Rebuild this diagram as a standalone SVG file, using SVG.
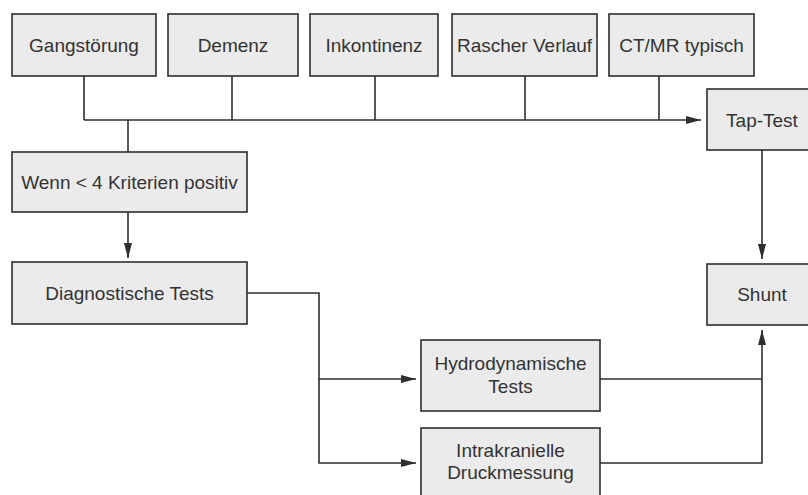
<svg xmlns="http://www.w3.org/2000/svg" width="808" height="495" viewBox="0 0 808 495">
<style>
.box{fill:#ebebeb;stroke:#2e2e2e;stroke-width:1.6}
.lbl{font-family:"Liberation Sans","Open Sans",sans-serif;font-size:19px;fill:#333;text-anchor:middle}
.con{fill:none;stroke:#2e2e2e;stroke-width:1.6}
</style>
<defs>
<marker id="arr" markerUnits="userSpaceOnUse" markerWidth="16" markerHeight="10" refX="15" refY="5" orient="auto">
<path d="M0,1 L15,5 L0,9 Z" fill="#2e2e2e"/>
</marker>
</defs>
<rect width="808" height="495" fill="#fff"/>
<g id="connectors">
<path class="con" d="M84,76 V120 M232,76 V120 M375,76 V120 M525,76 V120 M659,76 V120"/>
<path class="con" d="M84,120 H701" marker-end="url(#arr)"/>
<path class="con" d="M128,120 V152"/>
<path class="con" d="M128,212 V258" marker-end="url(#arr)"/>
<path class="con" d="M247,293 H319 V379 H416" marker-end="url(#arr)"/>
<path class="con" d="M319,379 V463 H416" marker-end="url(#arr)"/>
<path class="con" d="M762,150 V259" marker-end="url(#arr)"/>
<path class="con" d="M600,379 H762"/>
<path class="con" d="M600,463 H762 V330" marker-end="url(#arr)"/>
</g>
<g id="gangstoerung"><rect class="box" x="12" y="14" width="144" height="62"/><text class="lbl" x="84" y="51.5">Gangstörung</text></g>
<g id="demenz"><rect class="box" x="168" y="14" width="130" height="62"/><text class="lbl" x="233" y="51.5">Demenz</text></g>
<g id="inkontinenz"><rect class="box" x="310" y="14" width="128" height="62"/><text class="lbl" x="374" y="51.5">Inkontinenz</text></g>
<g id="rascher-verlauf"><rect class="box" x="452" y="14" width="145" height="62"/><text class="lbl" x="524.5" y="51.5">Rascher Verlauf</text></g>
<g id="ct-mr"><rect class="box" x="609" y="14" width="145" height="62"/><text class="lbl" x="681.5" y="51.5">CT/MR typisch</text></g>
<g id="tap-test"><rect class="box" x="707" y="89" width="110" height="61"/><text class="lbl" x="762" y="126.5">Tap-Test</text></g>
<g id="wenn"><rect class="box" x="12" y="152" width="235" height="60"/><text class="lbl" x="129.5" y="188.5">Wenn &lt; 4 Kriterien positiv</text></g>
<g id="diagnostische-tests"><rect class="box" x="12" y="262" width="235" height="62"/><text class="lbl" x="129.5" y="299.5">Diagnostische Tests</text></g>
<g id="shunt"><rect class="box" x="707" y="264" width="110" height="61"/><text class="lbl" x="762" y="300.5">Shunt</text></g>
<g id="hydrodynamische-tests"><rect class="box" x="421" y="340" width="179" height="71"/><text class="lbl" x="510.5" y="370">Hydrodynamische</text><text class="lbl" x="510.5" y="393">Tests</text></g>
<g id="druckmessung"><rect class="box" x="421" y="428" width="179" height="80"/><text class="lbl" x="510.5" y="457">Intrakranielle</text><text class="lbl" x="510.5" y="479">Druckmessung</text></g>
</svg>
